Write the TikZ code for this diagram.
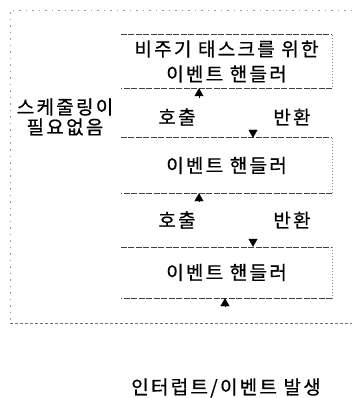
\documentclass[tikz,border=0pt]{standalone}
\usepackage{fontspec}
\setmainfont[LetterSpace=12, FakeBold=0.6]{Noto Sans CJK KR}
\usetikzlibrary{arrows.meta}

\begin{document}
\begin{tikzpicture}[x=1pt, y=-1pt,
	handler/.style={minimum width=211pt, minimum height=53pt, inner sep=0pt, align=center, font=\fontsize{19}{25}\selectfont},
	word/.style={font=\fontsize{19}{20}\selectfont},
	edge/.style={black!75, dash pattern=on 6pt off 1.5pt, line width=.6pt},
	side/.style={black!45, dash pattern=on 1pt off 2pt, line width=.5pt},
	arrow/.style={-{Triangle[width=9pt,length=8pt]}, line width=.4pt}
]
\useasboundingbox (0,0) rectangle (352,398);

% outer frame
\draw[black!40, dash pattern=on 1.5pt off 5pt] (352,10) -- (10,10) -- (10,323);
\draw[black!55, dash pattern=on 3pt off 2pt] (10,323) -- (352,323);

% handlers
\node[handler] (h1) at (226.5,61.5) {비주기 태스크를 위한\\이벤트 핸들러};
\node[handler, minimum height=55pt] (h2) at (226.5,165.5) {이벤트 핸들러};
\node[handler, minimum height=51pt] (h3) at (226.5,272.5) {이벤트 핸들러};

\foreach \h in {h1,h2,h3} {
	\draw[edge] (\h.north west) -- (\h.north east);
	\draw[side] (\h.north east) -- (\h.south east);
	\draw[edge] (\h.south east) -- (\h.south west);
}

% calls and returns
\node[word] (call1) at (177,117) {호출};
\node[word] (ret1) at (292,117) {반환};
\node[word] (call2) at (177,220) {호출};
\node[word] (ret2) at (292,220) {반환};

\coordinate (up1) at (199,98);
\coordinate (down1) at (253,130);
\coordinate (up2) at (199,202);
\coordinate (down2) at (253,239);
\coordinate (up3) at (225,306);
\draw[arrow] (up1) -- (up1 |- h1.south);
\draw[arrow] (down1) -- (down1 |- h2.north);
\draw[arrow] (up2) -- (up2 |- h2.south);
\draw[arrow] (down2) -- (down2 |- h3.north);
\draw[arrow] (up3) -- (up3 |- h3.south);

% side note
\node[word, align=center] (note) at (65,117) {스케줄링이\\필요없음};

% source
\node[word] (source) at (226,388) {인터럽트/이벤트 발생};
\end{tikzpicture}
\end{document}
